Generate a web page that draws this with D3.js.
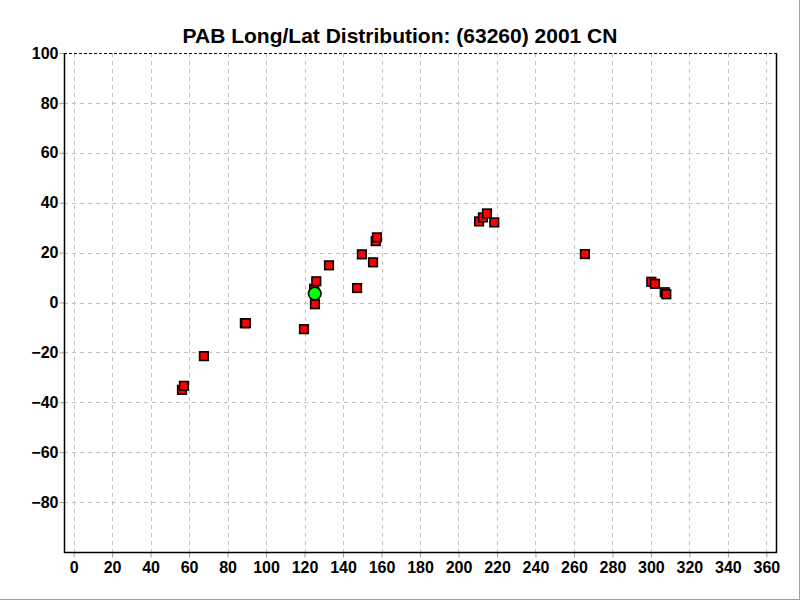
<!DOCTYPE html>
<html>
<head>
<meta charset="utf-8">
<script src="https://cdn.jsdelivr.net/npm/d3@7"></script>
<style>
  html, body { margin: 0; padding: 0; background: #fff; }
  svg { display: block; }
  text { font-family: "Liberation Sans", Arial, sans-serif; font-weight: bold; }
</style>
</head>
<body>
<svg id="chart" width="800" height="600"></svg>
<script>
const titleText = "PAB Long/Lat Distribution: (63260) 2001 CN";
const xTicks = [0, 20, 40, 60, 80, 100, 120, 140, 160, 180, 200, 220, 240, 260, 280, 300, 320, 340, 360];
const yTicks = [-80, -60, -40, -20, 0, 20, 40, 60, 80, 100];
const longitudes = [56.3, 57.3, 67.7, 89.0, 89.5, 119.7, 125.4, 125.0, 126.1, 132.7, 147.3, 149.8, 155.6, 157.0, 157.6, 210.7, 212.7, 214.8, 218.6, 265.7, 300.2, 302.1, 307.2, 308.0];
const latitudes  = [-35.0, -33.4, -21.5, -8.3, -8.3, -10.7, -0.7, 5.5, 8.5, 14.9, 5.8, 19.3, 16.1, 24.6, 26.1, 32.5, 34.1, 35.7, 32.1, 19.4, 8.3, 7.5, 4.1, 3.3];
const highlightLon = [125.3];
const highlightLat = [3.6];

const svg = d3.select("#chart");
const pLeft = 64, pRight = 776, pTop = 53, pBottom = 552;
const x = d3.scaleLinear().domain([-5, 365]).range([pLeft, pRight]);
const y = d3.scaleLinear().domain([-100, 100]).range([pBottom, pTop]);

// window frame lines
svg.append("line").attr("x1", 0).attr("x2", 800).attr("y1", 599.5).attr("y2", 599.5).attr("stroke", "#a0a0a0");
svg.append("line").attr("x1", 799.5).attr("x2", 799.5).attr("y1", 0).attr("y2", 600).attr("stroke", "#a0a0a0");

// title
svg.append("text").attr("x", 400).attr("y", 43).attr("text-anchor", "middle")
  .attr("font-size", 21).attr("fill", "#000").text(titleText);

// grid
const grid = svg.append("g");
grid.selectAll("line.vx").data(xTicks).join("line")
  .attr("x1", d => Math.round(x(d)) + 0.5).attr("x2", d => Math.round(x(d)) + 0.5)
  .attr("y1", pTop).attr("y2", pBottom)
  .attr("stroke", "#c0c0c0").attr("stroke-dasharray", "4,4");
grid.selectAll("line.hy").data(yTicks.filter(d => d < 100)).join("line")
  .attr("x1", pLeft).attr("x2", pRight)
  .attr("y1", d => Math.round(y(d)) + 0.5).attr("y2", d => Math.round(y(d)) + 0.5)
  .attr("stroke", "#c0c0c0").attr("stroke-dasharray", "4,4");

// axes
const xAxis = svg.append("g").attr("transform", `translate(0,${pBottom + 0.5})`)
  .call(d3.axisBottom(x).tickValues(xTicks).tickSize(5).tickSizeOuter(0).tickFormat(d3.format("d")));
const yAxis = svg.append("g").attr("transform", `translate(${pLeft + 0.5},0)`)
  .call(d3.axisLeft(y).tickValues(yTicks).tickSize(5).tickSizeOuter(0).tickFormat(d3.format("d")));
[xAxis, yAxis].forEach(g => {
  g.select(".domain").remove();
  g.selectAll(".tick line").attr("stroke", "#a0a0a0");
  g.selectAll(".tick text").attr("font-size", 16).attr("fill", "#000")
    .style("font-family", "'Liberation Sans', Arial, sans-serif").style("font-weight", "bold");
});
xAxis.selectAll(".tick text").attr("dy", "0.85em").attr("y", 7);
yAxis.selectAll(".tick text").attr("x", -6);

// frame
svg.append("line").attr("x1", pLeft + 0.5).attr("x2", pLeft + 0.5).attr("y1", pTop).attr("y2", pBottom + 1).attr("stroke", "#000").attr("stroke-width", 1.5);
svg.append("line").attr("x1", pLeft).attr("x2", pRight + 1).attr("y1", pBottom + 0.5).attr("y2", pBottom + 0.5).attr("stroke", "#000").attr("stroke-width", 1.5);
svg.append("line").attr("x1", pRight + 0.5).attr("x2", pRight + 0.5).attr("y1", pTop).attr("y2", pBottom + 1).attr("stroke", "#000").attr("stroke-width", 1.5);
svg.append("line").attr("x1", pLeft).attr("x2", pRight).attr("y1", pTop + 0.5).attr("y2", pTop + 0.5).attr("stroke", "#000").attr("stroke-dasharray", "3,2");

// squares
const pts = longitudes.map((d, i) => ({lon: d, lat: latitudes[i]}));
const s = 8.6;
svg.append("g").selectAll("rect").data(pts).join("rect")
  .attr("x", d => x(d.lon) - s / 2).attr("y", d => y(d.lat) - s / 2)
  .attr("width", s).attr("height", s)
  .attr("fill", "#ff0000").attr("stroke", "#000").attr("stroke-width", 1.6);

// highlight
const hp = highlightLon.map((d, i) => ({lon: d, lat: highlightLat[i]}));
svg.append("g").selectAll("circle").data(hp).join("circle")
  .attr("cx", d => x(d.lon)).attr("cy", d => y(d.lat)).attr("r", 6.3)
  .attr("fill", "#00ff00").attr("stroke", "#000").attr("stroke-width", 1.6);
</script>
</body>
</html>
